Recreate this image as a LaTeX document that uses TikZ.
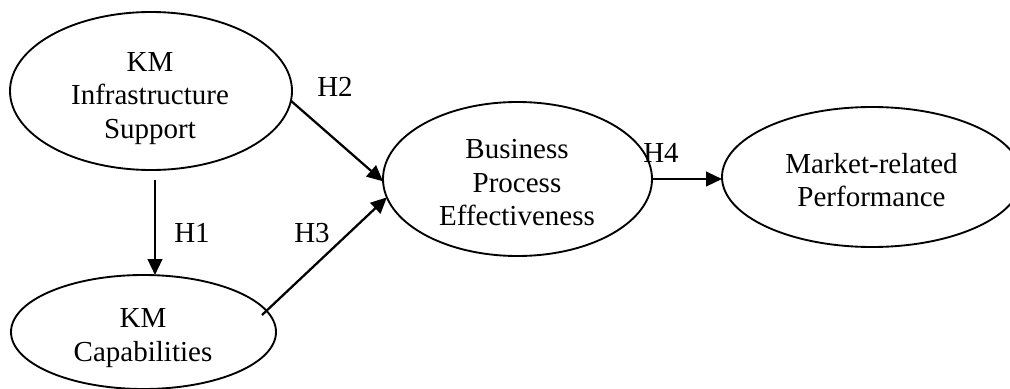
\documentclass[tikz,border=0pt]{standalone}
\usepackage{fontspec}
\setmainfont{Liberation Serif}
\usetikzlibrary{shapes.geometric,arrows.meta,calc}
\begin{document}
\begin{tikzpicture}[x=0.75pt,y=-0.75pt,
  oval/.style={draw, ellipse, line width=1.4pt, inner sep=0pt, outer sep=0pt},
  txt/.style={align=center, font=\fontsize{21.75pt}{25.1pt}\selectfont, inner sep=0pt},
  hlab/.style={font=\fontsize{21.75pt}{25.1pt}\selectfont, inner sep=0pt},
  arr/.style={line width=1.7pt, -{Triangle[length=12pt,width=11pt]}}]
\useasboundingbox (0,0) rectangle (1010,389);
% ellipses
\node[oval, minimum width=211.5pt, minimum height=118.5pt] (e1) at (151,91) {};
\node[oval, minimum width=198.75pt, minimum height=85.5pt] (e2) at (143.5,332) {};
\node[oval, minimum width=201.75pt, minimum height=115.5pt] (e3) at (517.5,179) {};
\node[oval, minimum width=225pt, minimum height=105pt] (e4) at (872,177) {};
% texts
\node[txt] (t1) at (150,98.5) {KM\\Infrastructure\\Support};
\node[txt] (t2) at (143,338) {KM\\Capabilities};
\node[txt] (t3) at (517,183) {Business\\Process\\Effectiveness};
\node[txt] (t4) at (871.5,180) {Market-related\\Performance};
% connectors
\draw[arr] ($(e1.south)+(4,10)$) -- ($(e2.north)+(11.5,0)$);
\draw[arr] (e1.-4.5) -- (e3.181);
\draw[arr] ($(e2.center)+(118.5,-17)$) -- (e3.188);
\draw[arr] (e3.east) -- (e3.east -| e4.west);
% labels
\node[hlab] (h1) at (192,233) {H1};
\node[hlab] (h2) at (335,87) {H2};
\node[hlab] (h3) at (312,233) {H3};
\node[hlab] (h4) at (661,153) {H4};
\end{tikzpicture}
\end{document}
